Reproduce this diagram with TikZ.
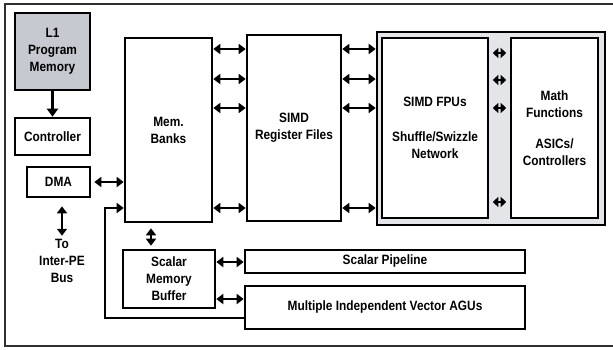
\documentclass[tikz,border=0pt]{standalone}
\usepackage{fontspec}
\setmainfont{Liberation Sans}[FakeStretch=0.88]
\usepackage{xcolor}
\usepackage{tikz}
\usetikzlibrary{arrows.meta,positioning,calc}
\definecolor{memgray}{HTML}{C6C9D0}
\definecolor{vecgray}{HTML}{E4E5E9}
\definecolor{framegray}{HTML}{303030}

\begin{document}
\begin{tikzpicture}[x=1pt,y=-1pt,
    box/.style={draw, line width=2.6pt, rectangle, inner sep=0pt, align=center,
      font=\fontsize{13.5}{17}\selectfont\bfseries},
    dbl/.style={{Triangle[length=7pt,width=10pt]}-{Triangle[length=7pt,width=10pt]}, line width=2.4pt},
    tiny/.style={{Triangle[length=5.5pt,width=10pt]}-{Triangle[length=5.5pt,width=10pt]}, line width=2.4pt},
    sgl/.style={-{Triangle[length=8pt,width=11pt]}, line width=2.4pt}]
  \useasboundingbox (0,0) rectangle (613,349);
  % Frame
  \draw[framegray, line width=2.8pt] (5,4) rectangle (618,346);
  % Control side
  \node[box, fill=memgray, minimum width=75, minimum height=77] (l1) at (52.5,51.5) {L1\\Program\\Memory};
  \node[box, minimum width=75, minimum height=37] (ctrl) at (52.5,136.5) {Controller};
  \node[box, minimum width=63, minimum height=30] (dma) at (58.5,182) {DMA};
  \node[align=center, font=\fontsize{13.5}{17}\selectfont\bfseries] (bus) at (62,261) {To\\Inter-PE\\Bus};
  % Memory and registers
  \node[box, minimum width=87, minimum height=184] (mem) at (168.5,130) {Mem.\\Banks};
  \node[box, minimum width=94, minimum height=186] (reg) at (294,128) {SIMD\\Register Files};
  % Vector unit
  \node[box, fill=vecgray, minimum width=228, minimum height=193] (vec) at (491,128.5) {};
  \node[box, fill=white, minimum width=106, minimum height=180] (fpu) at (435,128) {SIMD FPUs\\[18pt]Shuffle/Swizzle\\Network};
  \node[box, fill=white, minimum width=87, minimum height=180] (math) at (554.5,128) {Math\\Functions\\[14pt]ASICs/\\Controllers};
  % Scalar side
  \node[box, minimum width=92, minimum height=58] (smb) at (169,279) {Scalar\\Memory\\Buffer};
  \node[box, minimum width=280, minimum height=23] (pipe) at (385,261.5) {Scalar Pipeline};
  \node[box, minimum width=280, minimum height=43] (agu) at (385,307.5) {Multiple Independent Vector AGUs};
  \coordinate (fb) at (105,208);
  % Connectors
  \draw[sgl] (l1) -- (ctrl);
  \draw[dbl, shorten <=3pt] (dma.east) -- (dma.east -| mem.west);
  \draw[dbl, shorten <=8pt] (dma.south -| bus.north) -- (bus.north);
  \foreach \y in {49,79,108,208} {
    \draw[dbl] (mem.east |- 0,\y) -- (reg.west |- 0,\y);
    \draw[dbl] (reg.east |- 0,\y) -- (vec.west |- 0,\y);
  }
  \foreach \y in {53,80,108,202} {
    \draw[tiny, shorten <=3.5pt, shorten >=3.5pt] (fpu.east |- 0,\y) -- (math.west |- 0,\y);
  }
  \draw[dbl, shorten <=5pt, shorten >=3pt] (mem.south -| 151,0) -- (smb.north -| 151,0);
  \draw[dbl] (smb.east |- 0,262) -- (pipe.west |- 0,262);
  \draw[dbl] (smb.east |- 0,299) -- (agu.west |- 0,299);
  \draw[line width=2.4pt, -{Triangle[length=7pt,width=10pt]}] (agu.west |- 0,318) -| (fb) -- (mem.west |- fb);
\end{tikzpicture}
\end{document}
